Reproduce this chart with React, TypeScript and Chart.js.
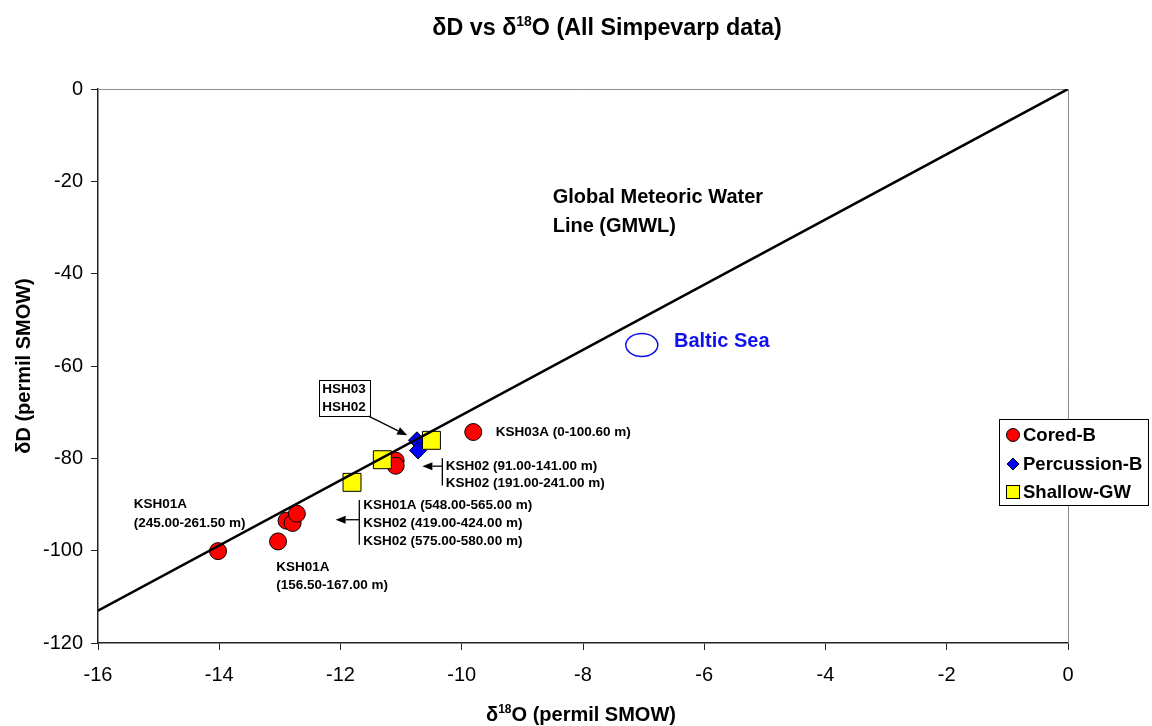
import React, { useEffect, useRef } from "react";
import { Chart, registerables } from "chart.js";

Chart.register(...registerables);

// ---------- data ----------
const coredX = [-14.02, -13.03, -12.89, -12.79, -12.72, -11.09, -11.09, -9.81];
const coredY = [-100.1, -98.0, -93.5, -94.0, -92.0, -80.5, -81.6, -74.3];
const percussionX = [-10.74, -10.72];
const percussionY = [-76.1, -78.3];
const shallowX = [-10.5, -11.31, -11.81];
const shallowY = [-76.1, -80.3, -85.2];
const gmwlX = [-16, 0];
const gmwlY = [-113, 0];

const seriesNames = ["Cored-B", "Percussion-B", "Shallow-GW"];
const xRange = [-16, 0];
const yRange = [-120, 0];
const xStep = 2;
const yStep = 20;

const gmwlLabel = ["Global Meteoric Water", "Line (GMWL)"];
const balticLabel = "Baltic Sea";
const balticCenter = [-7.03, -55.45];
const hshLabel = ["HSH03", "HSH02"];
const ksh03Label = ["KSH03A (0-100.60 m)"];
const ksh02Label = ["KSH02 (91.00-141.00 m)", "KSH02 (191.00-241.00 m)"];
const deepLabel = ["KSH01A (548.00-565.00 m)", "KSH02 (419.00-424.00 m)", "KSH02 (575.00-580.00 m)"];
const ksh01aLabelA = ["KSH01A", "(245.00-261.50 m)"];
const ksh01aLabelB = ["KSH01A", "(156.50-167.00 m)"];

// ---------- styles / layout ----------
const FONT = '"Liberation Sans", Arial, Helvetica, sans-serif';

const toPts = (xs: number[], ys: number[]) => xs.map((x, i) => ({ x, y: ys[i] }));

type Part = { t: string; sup?: boolean };

function drawRich(ctx: CanvasRenderingContext2D, parts: Part[], x: number, y: number, size: number) {
  const supSize = Math.round(size * 0.62);
  const widths = parts.map((p) => {
    ctx.font = `bold ${p.sup ? supSize : size}px ${FONT}`;
    return ctx.measureText(p.t).width;
  });
  const total = widths.reduce((a, b) => a + b, 0);
  let cx = x - total / 2;
  ctx.textAlign = "left";
  ctx.textBaseline = "alphabetic";
  parts.forEach((p, i) => {
    ctx.font = `bold ${p.sup ? supSize : size}px ${FONT}`;
    ctx.fillText(p.t, cx, p.sup ? y - size * 0.38 : y);
    cx += widths[i];
  });
}

function arrow(ctx: CanvasRenderingContext2D, x1: number, y1: number, x2: number, y2: number) {
  const ang = Math.atan2(y2 - y1, x2 - x1);
  const len = 10;
  const hw = 4;
  const bx = x2 - Math.cos(ang) * len;
  const by = y2 - Math.sin(ang) * len;
  ctx.beginPath();
  ctx.moveTo(x1, y1);
  ctx.lineTo(bx, by);
  ctx.stroke();
  ctx.beginPath();
  ctx.moveTo(x2, y2);
  ctx.lineTo(bx + Math.sin(ang) * hw, by - Math.cos(ang) * hw);
  ctx.lineTo(bx - Math.sin(ang) * hw, by + Math.cos(ang) * hw);
  ctx.closePath();
  ctx.fill();
}

const decorPlugin = {
  id: "decor",
  beforeDatasetsDraw(chart: any) {
    const { ctx, chartArea: a } = chart;
    ctx.save();
    ctx.strokeStyle = "#8c8c8c";
    ctx.lineWidth = 1;
    ctx.beginPath();
    ctx.moveTo(a.left, a.top + 0.5);
    ctx.lineTo(a.right + 0.5, a.top + 0.5);
    ctx.lineTo(a.right + 0.5, a.bottom);
    ctx.stroke();
    ctx.restore();
  },
  afterDraw(chart: any) {
    const { ctx } = chart;
    const sx = chart.scales.x;
    const sy = chart.scales.y;
    const X = (v: number) => sx.getPixelForValue(v);
    const Y = (v: number) => sy.getPixelForValue(v);
    ctx.save();
    ctx.fillStyle = "#000";

    // titles
    drawRich(ctx, [{ t: "δD vs δ" }, { t: "18", sup: true }, { t: "O (All Simpevarp data)" }], 607, 35, 23.3);
    drawRich(ctx, [{ t: "δ" }, { t: "18", sup: true }, { t: "O (permil SMOW)" }], 581, 721, 20);
    ctx.save();
    ctx.translate(30, (chart.chartArea.top + chart.chartArea.bottom) / 2);
    ctx.rotate(-Math.PI / 2);
    drawRich(ctx, [{ t: "δD (permil SMOW)" }], 0, 0, 20);
    ctx.restore();

    // GMWL label
    ctx.textAlign = "left";
    ctx.textBaseline = "middle";
    ctx.font = `bold 20px ${FONT}`;
    ctx.fillText(gmwlLabel[0], X(-8.5), Y(-23.53));
    ctx.fillText(gmwlLabel[1], X(-8.5), Y(-29.71));

    // Baltic Sea
    ctx.strokeStyle = "#1010ee";
    ctx.lineWidth = 1.5;
    ctx.beginPath();
    ctx.ellipse(X(balticCenter[0]), Y(balticCenter[1]), 16, 11.5, 0, 0, Math.PI * 2);
    ctx.stroke();
    ctx.fillStyle = "#1010ee";
    ctx.font = `bold 20px ${FONT}`;
    ctx.fillText(balticLabel, X(-6.5), Y(-54.65));

    // small annotations
    ctx.fillStyle = "#000";
    ctx.strokeStyle = "#000";
    ctx.lineWidth = 1.3;
    ctx.font = `bold 13.5px ${FONT}`;
    const lines = (arr: string[], x: number, y: number, gap: number) => {
      arr.forEach((s, i) => ctx.fillText(s, X(x), Y(y) + i * gap));
    };
    lines(ksh03Label, -9.44, -74.28, 18);
    lines(ksh02Label, -10.265, -81.65, 17.4);
    lines(deepLabel, -11.624, -90.2, 17.9);
    lines(ksh01aLabelA, -15.41, -90.0, 18.6);
    lines(ksh01aLabelB, -13.06, -103.6, 18.3);

    // brackets with arrows
    ctx.beginPath();
    ctx.moveTo(X(-10.32), Y(-80.0));
    ctx.lineTo(X(-10.32), Y(-85.9));
    ctx.stroke();
    arrow(ctx, X(-10.32), Y(-81.7), X(-10.65), Y(-81.7));
    ctx.beginPath();
    ctx.moveTo(X(-11.69), Y(-89.0));
    ctx.lineTo(X(-11.69), Y(-98.7));
    ctx.stroke();
    arrow(ctx, X(-11.69), Y(-93.3), X(-12.08), Y(-93.3));

    // HSH box
    const bx1 = X(-12.36), by1 = Y(-62.96), bx2 = X(-11.52), by2 = Y(-70.85);
    ctx.fillStyle = "#fff";
    ctx.fillRect(bx1, by1, bx2 - bx1, by2 - by1);
    ctx.lineWidth = 1;
    ctx.strokeRect(Math.round(bx1) + 0.5, Math.round(by1) + 0.5, Math.round(bx2 - bx1), Math.round(by2 - by1));
    ctx.fillStyle = "#000";
    ctx.fillText(hshLabel[0], X(-12.3), Y(-65.1));
    ctx.fillText(hshLabel[1], X(-12.3), Y(-69.0));
    ctx.lineWidth = 1.3;
    arrow(ctx, bx2 - 1, by2, X(-10.9), Y(-75.0));

    // legend
    const lx = 999, ly = 419, lw = 149, lh = 86;
    ctx.fillStyle = "#fff";
    ctx.fillRect(lx, ly, lw, lh);
    ctx.strokeStyle = "#000";
    ctx.lineWidth = 1;
    ctx.strokeRect(lx + 0.5, ly + 0.5, lw, lh);
    const rows = [435, 464, 492];
    const mx = 1013;
    ctx.lineWidth = 1;
    ctx.fillStyle = "#ff0000";
    ctx.beginPath();
    ctx.arc(mx, rows[0], 6.5, 0, Math.PI * 2);
    ctx.fill();
    ctx.stroke();
    ctx.fillStyle = "#0000ff";
    ctx.beginPath();
    ctx.moveTo(mx, rows[1] - 6);
    ctx.lineTo(mx + 6, rows[1]);
    ctx.lineTo(mx, rows[1] + 6);
    ctx.lineTo(mx - 6, rows[1]);
    ctx.closePath();
    ctx.fill();
    ctx.stroke();
    ctx.fillStyle = "#ffff00";
    ctx.fillRect(mx - 6.5, rows[2] - 6.5, 13, 13);
    ctx.strokeRect(mx - 6.5, rows[2] - 6.5, 13, 13);
    ctx.fillStyle = "#000";
    ctx.font = `bold 18.5px ${FONT}`;
    ctx.textAlign = "left";
    ctx.textBaseline = "middle";
    seriesNames.forEach((n, i) => ctx.fillText(n, 1023, rows[i] + 1));

    ctx.restore();
  },
};

export default function App() {
  const ref = useRef<HTMLCanvasElement | null>(null);

  useEffect(() => {
    if (!ref.current) return;
    const chart = new Chart(ref.current, {
      type: "scatter",
      data: {
        datasets: [
          {
            label: seriesNames[0],
            data: toPts(coredX, coredY),
            pointStyle: "circle",
            pointRadius: 8.5,
            pointHoverRadius: 8.5,
            backgroundColor: "#ff0000",
            borderColor: "#000",
            borderWidth: 1,
            order: 3,
          },
          {
            label: seriesNames[1],
            data: toPts(percussionX, percussionY),
            pointStyle: "rectRot",
            pointRadius: 8.5,
            pointHoverRadius: 8.5,
            backgroundColor: "#0000ff",
            borderColor: "#000",
            borderWidth: 1,
            order: 2,
          },
          {
            label: seriesNames[2],
            data: toPts(shallowX, shallowY),
            pointStyle: "rect",
            pointRadius: 12.7,
            pointHoverRadius: 12.7,
            backgroundColor: "#ffff00",
            borderColor: "#000",
            borderWidth: 1,
            order: 1,
          },
          {
            label: "GMWL",
            data: toPts(gmwlX, gmwlY),
            showLine: true,
            borderColor: "#000",
            borderWidth: 2.5,
            pointRadius: 0,
            pointHoverRadius: 0,
            order: 0,
          } as any,
        ],
      },
      options: {
        responsive: false,
        animation: false,
        events: [],
        layout: { padding: { left: 0, top: 89, right: 84, bottom: 0 } },
        plugins: {
          legend: { display: false },
          title: { display: false },
          tooltip: { enabled: false },
        },
        scales: {
          x: {
            type: "linear",
            min: xRange[0],
            max: xRange[1],
            ticks: {
              stepSize: xStep,
              color: "#000",
              font: { family: FONT, size: 20 },
              padding: 13,
              maxRotation: 0,
            },
            grid: { drawOnChartArea: false, tickLength: 7, color: "#222", lineWidth: 1 },
            border: { display: true, color: "#222", width: 1.5 },
            afterFit: (s: any) => {
              s.height = 83;
            },
          },
          y: {
            type: "linear",
            min: yRange[0],
            max: yRange[1],
            ticks: {
              stepSize: yStep,
              color: "#000",
              font: { family: FONT, size: 20 },
              padding: 8,
            },
            grid: { drawOnChartArea: false, tickLength: 7, color: "#222", lineWidth: 1 },
            border: { display: true, color: "#222", width: 1.5 },
            afterFit: (s: any) => {
              s.width = 98;
            },
          },
        },
      },
      plugins: [decorPlugin],
    });
    return () => chart.destroy();
  }, []);

  return (
    <div style={{ position: "absolute", left: 0, top: 0, width: 1152, height: 726, background: "#fff" }}>
      <canvas ref={ref} width={1152} height={726} />
    </div>
  );
}
